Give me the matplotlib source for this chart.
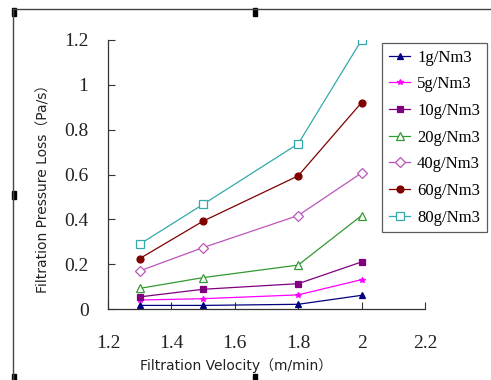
import matplotlib
matplotlib.use("Agg")
import matplotlib.pyplot as plt
from matplotlib.lines import Line2D
from matplotlib.patches import Rectangle

# filtration velocity (m/min)
velocity = [1.3, 1.5, 1.8, 2.0]

# pressure loss for each dust concentration
loss_1 = [0.016, 0.016, 0.021, 0.061]
loss_5 = [0.040, 0.046, 0.063, 0.131]
loss_10 = [0.054, 0.088, 0.113, 0.210]
loss_20 = [0.092, 0.140, 0.196, 0.417]
loss_40 = [0.170, 0.274, 0.417, 0.607]
loss_60 = [0.225, 0.392, 0.594, 0.921]
loss_80 = [0.289, 0.467, 0.737, 1.200]

labels = ["1g/Nm3", "5g/Nm3", "10g/Nm3", "20g/Nm3", "40g/Nm3", "60g/Nm3", "80g/Nm3"]
x_ticks = [1.2, 1.4, 1.6, 1.8, 2.0, 2.2]
y_ticks = [0, 0.2, 0.4, 0.6, 0.8, 1.0, 1.2]

W, H = 491, 380
fig = plt.figure(figsize=(W / 100, H / 100), dpi=100)
ax = fig.add_axes([108 / W, (H - 309) / H, (425 - 108) / W, (309 - 40) / H])

styles = [
    ("#000080", "^", True, 5),
    ("#ff00ff", "*", True, 4),
    ("#800080", "s", True, 5),
    ("#339933", "^", False, 6),
    ("#bb55bb", "D", False, 5),
    ("#800000", "o", True, 5),
    ("#33aaaa", "s", False, 6),
]
series = [loss_1, loss_5, loss_10, loss_20, loss_40, loss_60, loss_80]

for vals, lab, (c, m, filled, ms) in zip(series, labels, styles):
    ax.plot(velocity, vals, color=c, marker=m, markersize=ms, lw=0.9,
            markerfacecolor=c if filled else "white", markeredgecolor=c,
            markeredgewidth=0.9, label=lab)

ax.set_xlim(1.2, 2.2)
ax.set_ylim(0, 1.2)
ax.set_xticks(x_ticks)
ax.set_yticks(y_ticks)
ax.set_xticklabels(["%g" % t for t in x_ticks])
ax.set_yticklabels(["%g" % t for t in y_ticks])
for s in ["top", "right"]:
    ax.spines[s].set_visible(False)
for s in ["left", "bottom"]:
    ax.spines[s].set_color("#333333")
    ax.spines[s].set_linewidth(0.9)
ax.tick_params(axis="x", direction="in", length=5, pad=19, colors="#333333")
ax.tick_params(axis="y", direction="in", length=5, pad=14, colors="#333333")
for t in ax.get_xticklabels() + ax.get_yticklabels():
    t.set_fontfamily("Liberation Serif")
    t.set_fontsize(14)
    t.set_color("#222222")

fam = ["DejaVu Sans", "Noto Sans CJK SC"]
fig.text(236 / W, 1 - 366 / H, "Filtration Velocity（m/min）", ha="center", va="center",
         fontsize=10, family=fam, color="#222222")
fig.text(44 / W, 1 - 185 / H, "Filtration Pressure Loss（Pa/s）", ha="center", va="center",
         fontsize=10, family=fam, rotation=90, color="#222222")

leg = fig.legend(loc="upper left", bbox_to_anchor=(382 / W, 1 - 43 / H),
                 prop={"family": "Liberation Serif", "size": 12},
                 frameon=True, fancybox=False, handlelength=1.3, handletextpad=0.4,
                 labelspacing=0.64, borderpad=0.4, borderaxespad=0)
leg.get_frame().set_edgecolor("#333333")
leg.get_frame().set_linewidth(0.9)

# outer frame of the pasted chart
fig.add_artist(Line2D([13 / W, 1], [1 - 9 / H, 1 - 9 / H], color="#444444", lw=1))
fig.add_artist(Line2D([13 / W, 13 / W], [1 - 9 / H, 0], color="#444444", lw=1))
for hx, hy in [(14, 12), (14, 195), (14, 378), (255, 12), (255, 378)]:
    fig.add_artist(Rectangle(((hx - 2) / W, 1 - (hy + 4) / H), 4 / W, 8 / H,
                             color="black", transform=fig.transFigure))

fig.savefig("out.png", dpi=100)
